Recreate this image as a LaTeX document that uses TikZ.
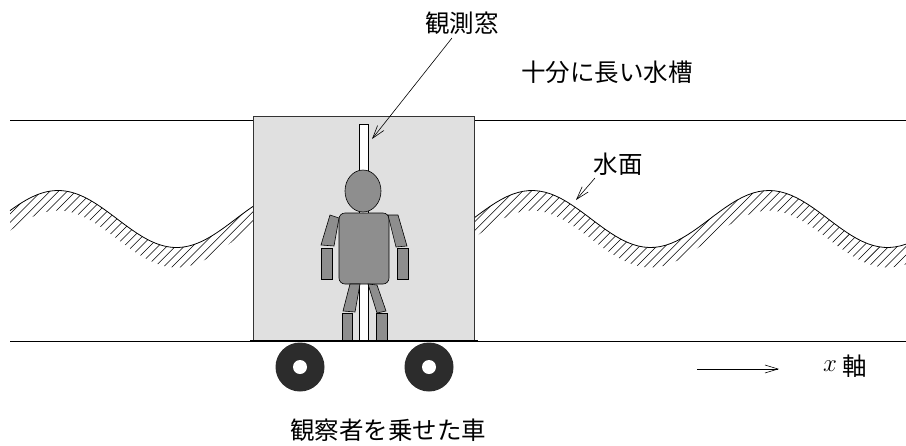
\documentclass[tikz,border=0pt]{standalone}
\usepackage{fontspec}
\newfontfamily\jp{Noto Sans CJK JP}
\usetikzlibrary{arrows.meta}
\definecolor{boxgray}{HTML}{E0E0E0}
\definecolor{bodygray}{HTML}{8E8E8E}
\definecolor{wheelgray}{HTML}{2C2C2C}
\begin{document}
\begin{tikzpicture}[x=1pt,y=-1pt,
  declare function={wy(\x)=219-28.5*cos((\x-58)*1.519);},
  jplabel/.style={font=\jp\fontsize{24.5}{24.5}\selectfont, inner sep=0pt},
  tankline/.style={line width=0.8pt},
  surface/.style={line width=0.8pt},
  hatchline/.style={line width=0.55pt},
  part/.style={draw=black, line width=0.6pt, fill=bodygray},
  pointer/.style={line width=0.6pt, -{Straight Barb[length=13pt,width=8pt]}},
]
\useasboundingbox (0,0) rectangle (906,445);

% walls of the tank
\coordinate (tl) at (10,120);  \coordinate (tr) at (906,120);
\coordinate (bl) at (10,341);  \coordinate (br) at (906,341);
\draw[tankline] (tl) -- (tr);
\draw[tankline] (bl) -- (br);

% hatched water surface, left and right of the car
\foreach \xa/\xb in {10/253, 474/906} {
  \begin{scope}
    \clip plot[domain=\xa:\xb, samples=80] (\x,{wy(\x)})
          -- plot[domain=\xb:\xa, samples=80] (\x,{wy(\x)+20}) -- cycle;
    \foreach \i in {-20,...,60}
      \draw[hatchline] ({\xa+\i*8.6},300) -- ++(110,-110);
  \end{scope}
  \draw[surface] plot[domain=\xa:\xb, samples=80] (\x,{wy(\x)});
}

% car body with window
\draw[fill=boxgray, draw=black!80, line width=0.6pt] (253,116) rectangle (474,340);
\draw[fill=white, line width=0.6pt] (359,124) rectangle (368,340);

% observer
\draw[part] (363,191) ellipse [x radius=18, y radius=21];
\draw[part, rounded corners=6pt] (339,213) rectangle (389,284);
\draw[part] (330,215) -- (339,218) -- (334,246) -- (321,245) -- cycle;
\draw[part] (321,248) rectangle (332,279);
\draw[part] (388,215) -- (398,215) -- (407,246) -- (396,247) -- cycle;
\draw[part] (397,248) rectangle (408,279);
\draw[part] (350,284) -- (360,284) -- (355,312) -- (343,311) -- cycle;
\draw[part] (342,313) rectangle (352,340);
\draw[part] (368,284) -- (377,285) -- (386,311) -- (377,313) -- cycle;
\draw[part] (376,313) rectangle (387,340);

% floor and wheels
\draw[line width=2.4pt] (250,341) -- (478,341);
\foreach \cx in {300,429} {
  \fill[wheelgray] (\cx,367) circle[radius=24.5];
  \fill[white] (\cx,367) circle[radius=7];
}

% labels
\node[jplabel] (window) at (462,23) {観測窓};
\node[jplabel] (tank) at (607,72) {十分に長い水槽};
\node[jplabel] (water) at (618,164) {水面};
\node[jplabel] (car) at (388,430) {観察者を乗せた車};
\node[inner sep=0pt, font=\fontsize{25}{25}\selectfont] (xvar) at (830,366) {$x$};
\node[jplabel, anchor=west] (axis) at (842,366) {軸};

% pointers
\coordinate (wtip) at (372,139);
\coordinate (stip) at (576,200);
\coordinate (axstart) at (697,369);
\coordinate (axend) at (779,369);
\draw[pointer] (452,38) -- (wtip);
\draw[pointer] (595,178) -- (stip);
\draw[pointer] (axstart) -- (axend);
\end{tikzpicture}
\end{document}
